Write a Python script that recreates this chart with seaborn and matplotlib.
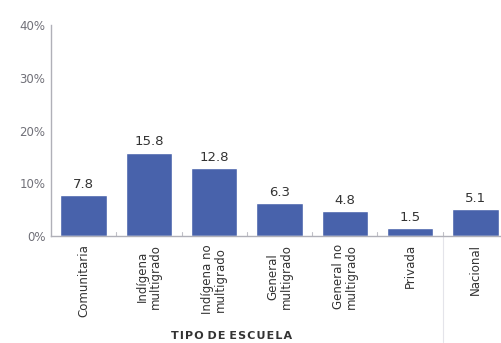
import matplotlib
matplotlib.use("Agg")
import matplotlib.pyplot as plt
import seaborn as sns
import pandas as pd

categorias = ["Comunitaria", "Indígena\nmultigrado", "Indígena no\nmultigrado",
              "General\nmultigrado", "General no\nmultigrado", "Privada", "Nacional"]
valores = [7.8, 15.8, 12.8, 6.3, 4.8, 1.5, 5.1]
yticks = [0, 10, 20, 30, 40]
ytick_labels = ["0%", "10%", "20%", "30%", "40%"]
titulo_x = "TIPO DE ESCUELA"

df = pd.DataFrame({"tipo": categorias, "valor": valores})

sns.set_theme(style="white")
plt.rcParams["font.family"] = ["DejaVu Sans"]

fig = plt.figure(figsize=(5.01, 3.43), dpi=100)
ax = fig.add_axes([51 / 501, (343 - 236) / 343, 457 / 501, 211 / 343])

sns.barplot(data=df, x="tipo", y="valor", color="#4862ab", width=0.71,
            saturation=1, ax=ax)

ax.set_ylim(0, 40)
ax.set_xlim(-0.5, 6.5)
ax.set_yticks(yticks)
ax.set_yticklabels(ytick_labels, color="#707078", fontsize=8.5)
ax.tick_params(axis="y", direction="in", length=10, width=1, color="#b8b8c0", pad=4)
ax.set_xticks(range(len(categorias)))
ax.set_xticklabels(categorias, rotation=90, fontsize=8.5, color="#333333",
                   va="top", ha="center", linespacing=1.0)
ax.tick_params(axis="x", length=0, pad=6)

# small separators between categories
for b in [x + 0.5 for x in range(len(categorias) - 1)]:
    ax.plot([b, b], [0, 0.8], color="#c0c0c8", lw=0.8, clip_on=False)
# separator before the national value
ax.plot([5.5, 5.5], [0, -20], color="#e4e4ea", lw=0.8, clip_on=False)

for s in ["top", "right"]:
    ax.spines[s].set_visible(False)
for s in ["left", "bottom"]:
    ax.spines[s].set_color("#b0b0b8")
    ax.spines[s].set_linewidth(1)

ax.bar_label(ax.containers[0], labels=[f"{v:.1f}" for v in valores],
             padding=3, fontsize=9.5, color="#333333")

ax.set_xlabel("")
ax.set_ylabel("")
# letter-spaced axis title
espaciado = "\u200a".join(titulo_x).replace("\u200a \u200a", " ")
fig.text(232 / 501, 1 - 336 / 343, espaciado,
         ha="center", va="center", fontsize=8, fontweight="bold", color="#333333")

fig.savefig("out.png", dpi=100, facecolor="white")
